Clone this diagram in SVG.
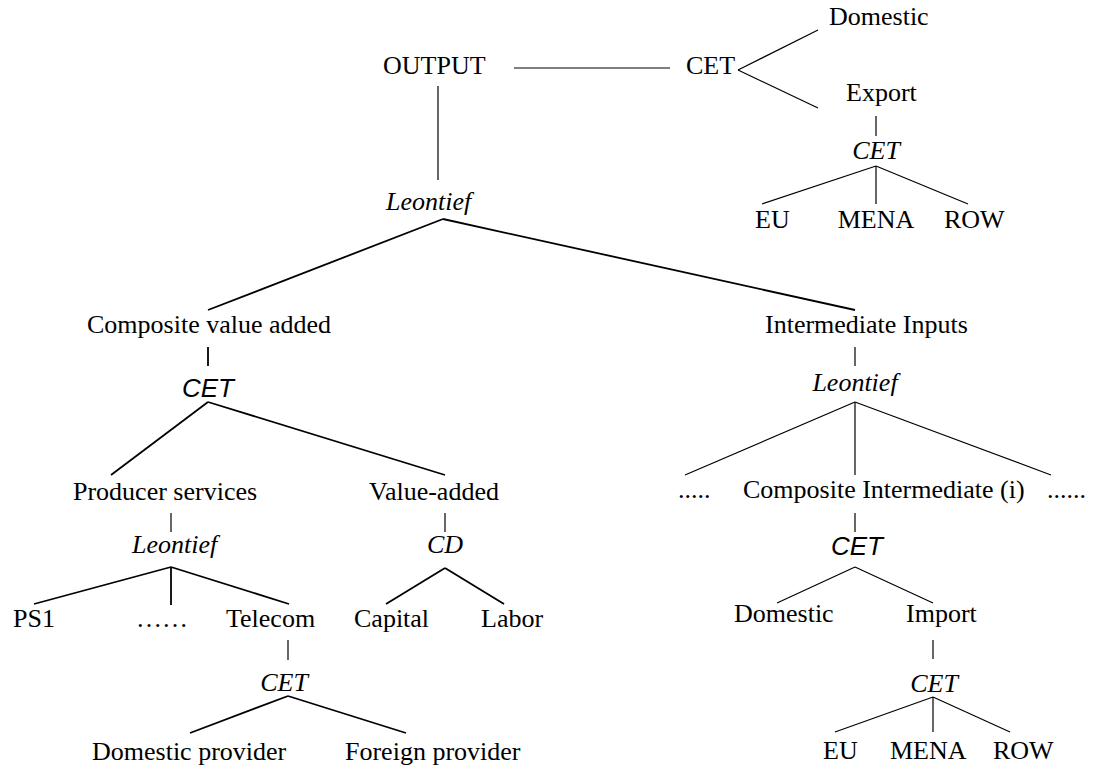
<svg xmlns="http://www.w3.org/2000/svg" width="1097" height="770" viewBox="0 0 1097 770">
<style>
text{font-family:"Liberation Serif","Times New Roman",serif;font-size:26px;fill:#000}
.i{font-style:italic}
.s{font-family:"Liberation Sans",Arial,sans-serif;font-style:italic}
.m{text-anchor:middle}
line{stroke:#000;stroke-width:1.2;fill:none}
.k{stroke-width:1.8}
</style>
<rect width="1097" height="770" fill="#fff"/>
<g id="connectors">
<line x1="514" y1="68" x2="670" y2="68"/>
<line x1="738" y1="70" x2="818" y2="30"/>
<line x1="738" y1="70" x2="818" y2="108"/>
<line x1="876" y1="116" x2="876" y2="136"/>
<line x1="876" y1="166" x2="762" y2="204"/>
<line x1="876" y1="166" x2="876" y2="204"/>
<line x1="876" y1="166" x2="968" y2="204"/>
<line x1="438" y1="86" x2="438" y2="180"/>
<line class="k" x1="443" y1="219" x2="208" y2="310"/>
<line class="k" x1="443" y1="219" x2="855" y2="310"/>
<line class="k" x1="208" y1="347" x2="208" y2="366"/>
<line class="k" x1="208" y1="402" x2="111" y2="475"/>
<line class="k" x1="208" y1="402" x2="445" y2="475"/>
<line x1="171" y1="513" x2="171" y2="532"/>
<line x1="445" y1="513" x2="445" y2="532"/>
<line class="k" x1="171" y1="567" x2="34" y2="604"/>
<line class="k" x1="171" y1="567" x2="171" y2="605"/>
<line class="k" x1="171" y1="567" x2="289" y2="604"/>
<line class="k" x1="445" y1="568" x2="386" y2="604"/>
<line class="k" x1="445" y1="568" x2="504" y2="604"/>
<line x1="288" y1="640" x2="288" y2="660"/>
<line class="k" x1="288" y1="696" x2="190" y2="733"/>
<line class="k" x1="288" y1="696" x2="406" y2="733"/>
<line x1="855" y1="347" x2="855" y2="366"/>
<line x1="855" y1="402" x2="685" y2="475"/>
<line x1="855" y1="402" x2="855" y2="475"/>
<line x1="855" y1="402" x2="1051" y2="475"/>
<line x1="855" y1="513" x2="855" y2="532"/>
<line x1="855" y1="567" x2="777" y2="603"/>
<line x1="855" y1="567" x2="933" y2="603"/>
<line x1="933" y1="640" x2="933" y2="659"/>
<line x1="933" y1="697" x2="835" y2="732"/>
<line x1="933" y1="697" x2="933" y2="732"/>
<line x1="933" y1="697" x2="1010" y2="732"/>
</g>
<g id="n-domestic-top"><text x="829" y="25">Domestic</text></g>
<g id="n-output"><text x="383" y="74">OUTPUT</text></g>
<g id="n-cet-top"><text x="686" y="74">CET</text></g>
<g id="n-export"><text x="846" y="101">Export</text></g>
<g id="n-cet-export"><text class="i m" x="876" y="159">CET</text></g>
<g id="n-eu-top"><text x="755" y="228">EU</text></g>
<g id="n-mena-top"><text class="m" x="876" y="228">MENA</text></g>
<g id="n-row-top"><text x="944" y="228">ROW</text></g>
<g id="n-leontief-top"><text class="i" x="386" y="210">Leontief</text></g>
<g id="n-cva"><text x="87" y="333">Composite value added</text></g>
<g id="n-cet-cva"><text class="s m" x="208" y="397">CET</text></g>
<g id="n-ps"><text x="73" y="500">Producer services</text></g>
<g id="n-va"><text x="369" y="500">Value-added</text></g>
<g id="n-leontief-ps"><text class="i" x="132" y="553">Leontief</text></g>
<g id="n-cd"><text class="i m" x="445" y="553">CD</text></g>
<g id="n-ps1"><text x="13" y="627">PS1</text></g>
<g id="n-dots-ps"><text x="136" y="627">……</text></g>
<g id="n-telecom"><text x="226" y="627">Telecom</text></g>
<g id="n-capital"><text x="354" y="627">Capital</text></g>
<g id="n-labor"><text x="481" y="627">Labor</text></g>
<g id="n-cet-telecom"><text class="i m" x="284" y="691">CET</text></g>
<g id="n-domestic-provider"><text x="92" y="760">Domestic provider</text></g>
<g id="n-foreign-provider"><text x="345" y="760">Foreign provider</text></g>
<g id="n-ii"><text x="765" y="333">Intermediate Inputs</text></g>
<g id="n-leontief-ii"><text class="i m" x="855" y="391">Leontief</text></g>
<g id="n-dots-left"><text x="678" y="498">.....</text></g>
<g id="n-ci"><text x="743" y="498">Composite Intermediate (i)</text></g>
<g id="n-dots-right"><text x="1047" y="498">......</text></g>
<g id="n-cet-ci"><text class="s m" x="857" y="555">CET</text></g>
<g id="n-domestic-ci"><text x="734" y="622">Domestic</text></g>
<g id="n-import"><text x="906" y="622">Import</text></g>
<g id="n-cet-import"><text class="i m" x="934" y="692">CET</text></g>
<g id="n-eu-bot"><text x="823" y="759">EU</text></g>
<g id="n-mena-bot"><text x="890" y="759">MENA</text></g>
<g id="n-row-bot"><text x="993" y="759">ROW</text></g>
</svg>
